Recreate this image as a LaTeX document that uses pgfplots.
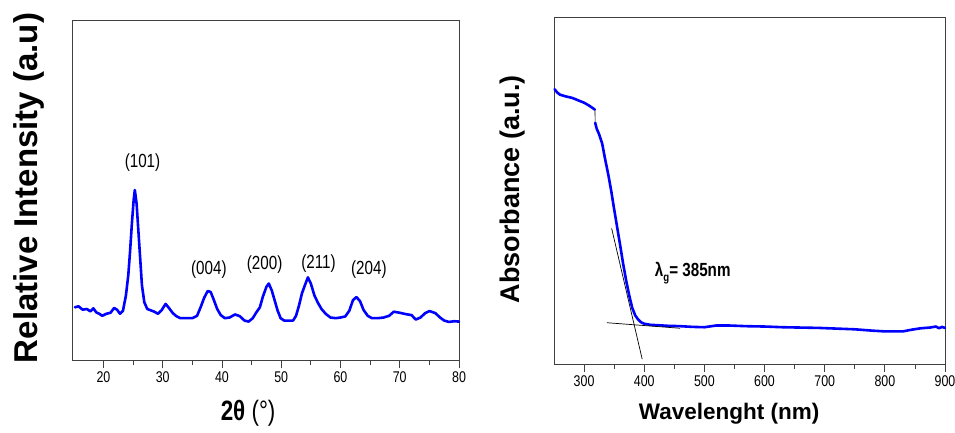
\documentclass[border=0pt]{standalone}
\usepackage{fontspec}
\setmainfont{Liberation Sans}
\newfontfamily\cond[FakeStretch=0.8]{Liberation Sans}
\usepackage{pgfplots}
\pgfplotsset{compat=1.18}

\pgfplotsset{
  panel/.style={
    scale only axis,
    ymin=0, ymax=100,
    ytick=\empty,
    xtick pos=bottom,
    tick align=outside,
    major tick length=8pt,
    minor tick length=5pt,
    minor x tick num=1,
    axis line style={black!75, line width=0.8pt},
    tick style={black!75, line width=0.8pt},
    /pgf/number format/assume math mode=true,
    clip=false,
  },
  curve/.style={blue, line width=2.6pt, line join=round, line cap=round},
}

\begin{document}
\begin{tikzpicture}
\useasboundingbox (0,0) rectangle (955pt,432pt);

% XRD pattern
\begin{axis}[
  panel,
  at={(72pt,72pt)}, anchor=south west,
  width=387pt, height=340pt,
  xmin=14.7, xmax=80,
  xtick={20,30,...,80},
  x tick label style={font=\cond\fontsize{15.5}{17}\selectfont},
  xlabel={\textbf{2θ} (°)},
  xlabel style={at={(axis description cs:0.455,-0.156)}, anchor=center,
    font=\cond\fontsize{28}{32}\selectfont},
  ylabel={\textbf{Relative Intensity (a.u)}},
  ylabel style={at={(axis description cs:-0.111,0.506)}, anchor=center,
    font=\fontsize{33}{38}\selectfont},
]
\addplot[curve] coordinates {
  (15.2,15.5) (15.8,15.8) (16.5,14.8) (17.2,15.0) (17.8,14.3) (18.3,15.2)
  (18.8,14.0) (19.3,13.6) (19.8,13.0) (20.5,13.6) (21.2,13.9) (21.8,15.3)
  (22.3,14.8) (22.8,13.6) (23.3,14.5) (23.8,19) (24.2,25) (24.5,32)
  (24.8,40) (25.1,47) (25.3,50) (25.6,46) (25.9,38) (26.2,30) (26.5,22)
  (26.9,17) (27.4,15) (28.0,14.6) (28.6,14.2) (29.2,13.6) (29.8,14.6)
  (30.5,16.5) (31.1,15.2) (31.7,13.8) (32.3,12.9) (33.0,12.3) (34.0,12.3)
  (35.0,12.3) (35.8,13.0) (36.4,15.5) (37.0,18.3) (37.6,20.3) (38.1,20.0)
  (38.6,17.8) (39.2,15.0) (39.8,13.2) (40.5,12.3) (41.3,12.5) (42.2,13.4)
  (43.0,12.9) (43.8,11.6) (44.5,11.3) (45.2,12.3) (45.8,14.0) (46.4,15.5)
  (46.9,18.6) (47.5,21.5) (47.9,22.5) (48.4,20.5) (48.9,17.5) (49.4,14.5)
  (49.9,12.3) (50.5,11.6) (51.3,11.6) (52.0,11.6) (52.5,13.0) (53.0,16.0)
  (53.5,19.6) (54.0,22.0) (54.5,24.3) (55.0,22.5) (55.6,19.0) (56.2,16.8)
  (56.8,15.0) (57.5,13.6) (58.3,12.5) (59.2,12.3) (60.0,12.5) (60.8,12.8)
  (61.5,14.5) (62.1,17.6) (62.7,18.5) (63.3,17.3) (63.9,14.7) (64.6,13.0)
  (65.3,12.3) (66.3,12.3) (67.3,12.5) (68.2,13.0) (69.0,14.2) (70.0,13.9)
  (71.0,13.5) (72.0,13.2) (72.7,11.9) (73.5,12.5) (74.3,13.8) (75.0,14.4)
  (76.0,13.8) (76.8,12.5) (77.5,11.6) (78.3,11.2) (79.2,11.4) (80.0,11.3)
};
\node[font=\cond\fontsize{19}{22}\selectfont] at (axis cs:26.6,58) {(101)};
\node[font=\cond\fontsize{19}{22}\selectfont] at (axis cs:37.8,26.5) {(004)};
\node[font=\cond\fontsize{19}{22}\selectfont] at (axis cs:47.2,28) {(200)};
\node[font=\cond\fontsize{19}{22}\selectfont] at (axis cs:56.3,28.5) {(211)};
\node[font=\cond\fontsize{19}{22}\selectfont] at (axis cs:64.8,26.5) {(204)};
\end{axis}

% UV-Vis absorbance
\begin{axis}[
  panel,
  at={(554pt,68pt)}, anchor=south west,
  width=391pt, height=347pt,
  xmin=250, xmax=900,
  xtick={300,400,...,900},
  x tick label style={font=\cond\fontsize{15.5}{17}\selectfont},
  xlabel={\textbf{Wavelenght (nm)}},
  xlabel style={at={(axis description cs:0.448,-0.144)}, anchor=center,
    font=\fontsize{22.5}{26}\selectfont},
  ylabel={\textbf{Absorbance (a.u.)}},
  ylabel style={at={(axis description cs:-0.106,0.503)}, anchor=center,
    font=\fontsize{27}{31}\selectfont},
]
\addplot[curve] coordinates {
  (251,79.2) (255,78.3) (260,77.6) (270,77.1) (280,76.7) (290,76.0)
  (300,75.3) (308,74.5) (314,73.8) (318,73.3)
};
\addplot[black, line width=0.6pt] coordinates {(318,73.3) (318.5,69.5)};
\addplot[curve] coordinates {
  (318.5,69.5) (321,67.8) (325,66.2) (330,63.6) (335,59.0) (340,54.8)
  (345,50.0) (350,44.6) (355,39.4) (360,34.2) (365,28.8) (370,24.0)
  (375,19.8) (380,16.2) (385,14.0) (390,12.8) (395,12.0) (400,11.6)
  (410,11.3) (420,11.2) (440,11.0) (460,10.9) (480,10.7) (500,10.6)
  (520,11.1) (540,11.1) (570,10.9) (600,10.8) (630,10.6) (660,10.5)
  (690,10.4) (720,10.2) (750,10.0) (780,9.6) (800,9.4) (830,9.4)
  (845,9.9) (860,10.3) (875,10.5) (885,10.8) (890,10.3) (895,10.7) (900,10.4)
};
% tangent construction
\addplot[black, line width=0.7pt] coordinates {(345.8,39.1) (396.6,1.4)};
\addplot[black, line width=0.7pt] coordinates {(337.8,11.9) (459.6,10.3)};
\node[anchor=west, font=\cond\bfseries\fontsize{19}{22}\selectfont]
  at (axis cs:412,26.2) {λ\raisebox{-0.45ex}{\fontsize{12}{13}\selectfont g}= 385nm};
\end{axis}
\end{tikzpicture}
\end{document}
